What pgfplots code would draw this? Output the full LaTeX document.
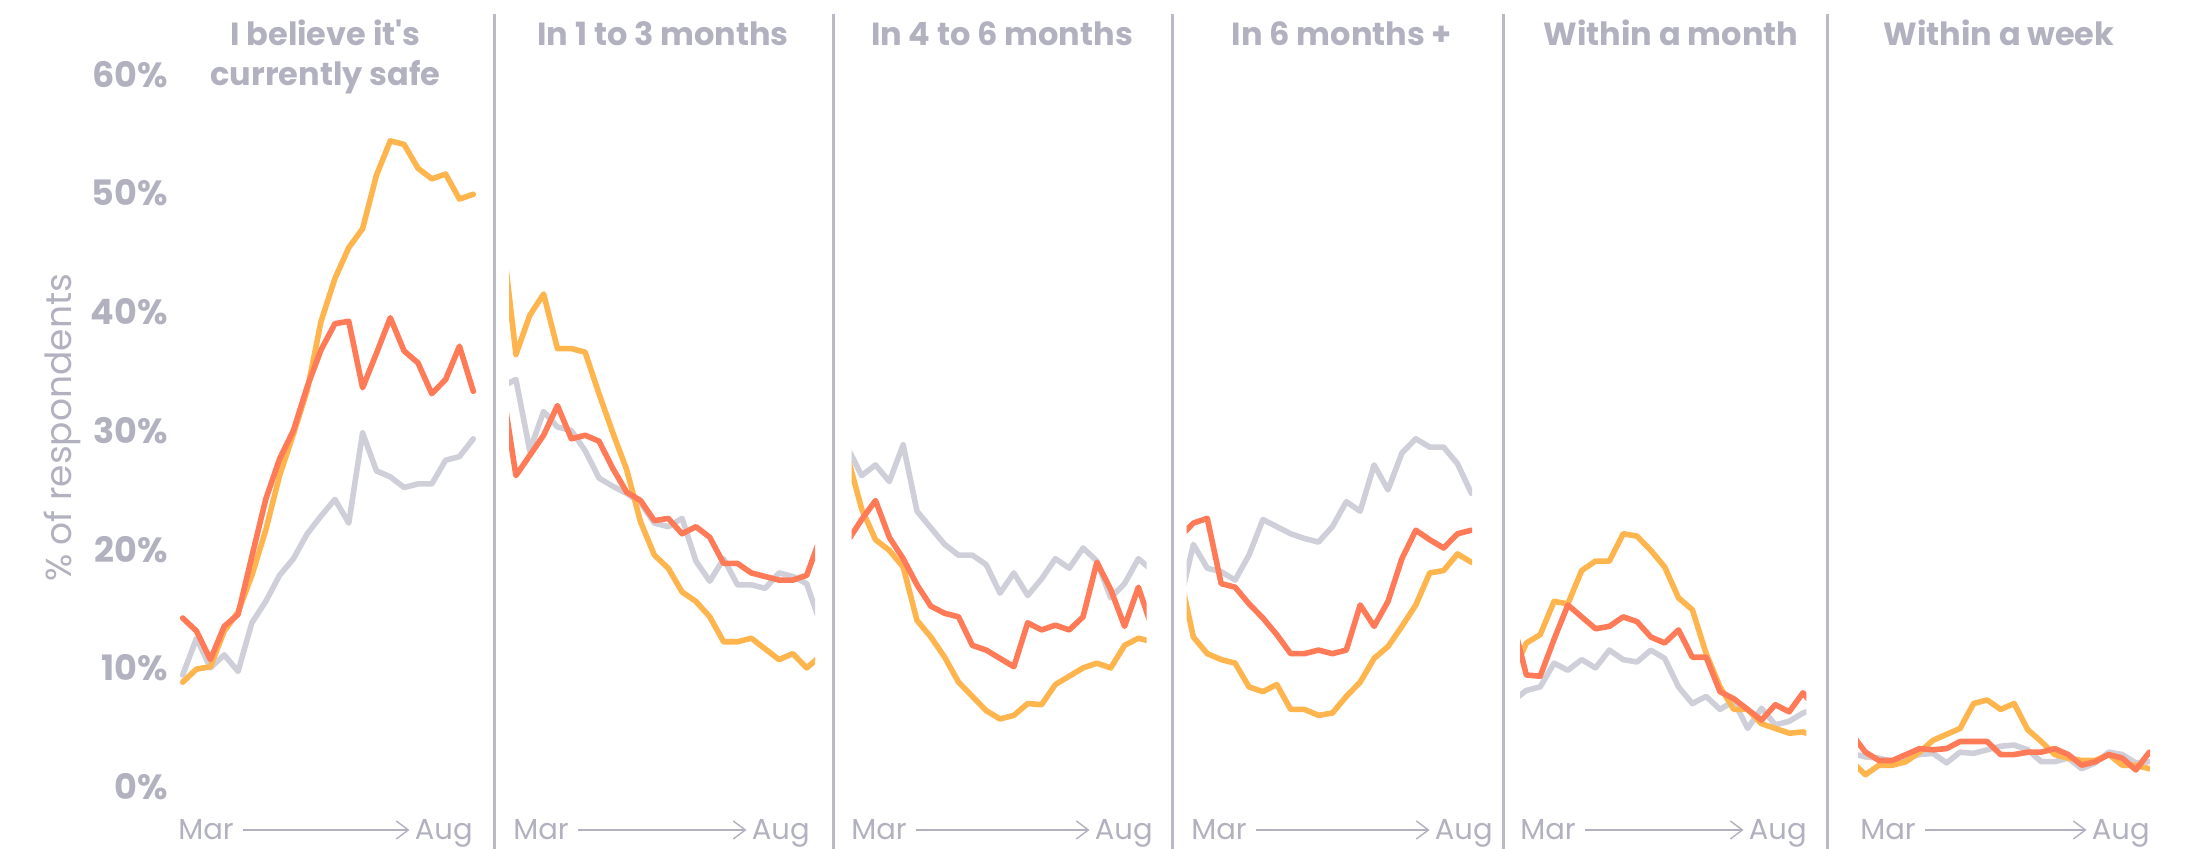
\documentclass[border=0pt]{standalone}
\usepackage{fontspec}
\setmainfont{Poppins}
\usepackage{pgfplots}
\usepackage{pgfplotstable}
\pgfplotsset{compat=1.18}
\usetikzlibrary{arrows.meta}

\definecolor{cgray}{RGB}{207,207,217}
\definecolor{corange}{RGB}{255,181,77}
\definecolor{ccoral}{RGB}{255,123,87}
\definecolor{ctext}{RGB}{178,177,191}
\definecolor{crule}{RGB}{186,185,199}

% one table per panel: x = week index, three series
\pgfplotstableread{
x gray orange coral
0 9.4 8.8 14.2
1 12.5 9.9 13.1
2 10.0 10.1 10.7
3 11.1 13.1 13.5
4 9.7 14.7 14.5
5 13.8 17.8 19.4
6 15.6 21.6 24.2
7 17.8 26.2 27.6
8 19.2 29.7 30.0
9 21.3 33.4 33.7
10 22.8 39.2 36.8
11 24.2 42.8 39.0
12 22.2 45.4 39.2
13 29.8 47.0 33.6
14 26.6 51.5 36.5
15 26.1 54.4 39.5
16 25.2 54.1 36.7
17 25.5 52.1 35.7
18 25.5 51.2 33.1
19 27.5 51.6 34.3
20 27.8 49.5 37.1
21 29.3 49.9 33.3
}\safe

\pgfplotstableread{
x gray orange coral
-1 33.7 46.6 33.8
0 34.3 36.4 26.2
1 28.3 39.7 27.9
2 31.6 41.5 29.6
3 30.3 36.9 32.1
4 30.0 36.9 29.3
5 28.3 36.6 29.6
6 26.0 33.1 29.1
7 25.3 29.8 26.8
8 24.7 26.7 24.8
9 23.9 22.3 24.1
10 22.2 19.5 22.4
11 21.9 18.4 22.6
12 22.6 16.4 21.3
13 19.0 15.6 21.9
14 17.3 14.3 21.0
15 19.2 12.2 18.8
16 17.0 12.2 18.8
17 17.0 12.5 18.0
18 16.7 11.6 17.7
19 18.0 10.7 17.4
20 17.7 11.2 17.4
21 17.1 10.0 17.8
22 13.7 11.0 21.0
}\onetothree

\pgfplotstableread{
x gray orange coral
-1 28.5 27.7 20.7
0 26.2 23.4 22.5
1 27.1 20.8 24.1
2 25.7 19.9 21.0
3 28.8 18.5 19.2
4 23.2 14.0 17.0
5 21.8 12.6 15.2
6 20.4 10.9 14.6
7 19.5 8.8 14.3
8 19.5 7.6 11.9
9 18.7 6.4 11.5
10 16.3 5.7 10.8
11 18.0 6.0 10.1
12 16.1 7.0 13.8
13 17.5 6.9 13.2
14 19.2 8.6 13.6
15 18.4 9.3 13.2
16 20.1 10.0 14.3
17 19.0 10.4 18.9
18 15.9 10.0 16.6
19 17.1 11.9 13.5
20 19.2 12.5 16.8
21 18.2 12.2 13.3
}\fourtosix

\pgfplotstableread{
x gray orange coral
-1 15.4 18.0 21.0
0 20.4 12.6 22.2
1 18.4 11.2 22.6
2 18.1 10.7 17.1
3 17.4 10.4 16.8
4 19.5 8.4 15.4
5 22.5 8.0 14.2
6 21.9 8.6 12.8
7 21.3 6.5 11.2
8 20.9 6.5 11.2
9 20.6 6.0 11.5
10 21.9 6.2 11.2
11 24.0 7.6 11.5
12 23.2 8.8 15.3
13 27.1 10.8 13.5
14 25.0 11.8 15.6
15 28.1 13.5 19.2
16 29.3 15.3 21.6
17 28.6 18.0 20.8
18 28.6 18.2 20.1
19 27.2 19.6 21.3
20 24.7 18.9 21.6
}\sixplus

\pgfplotstableread{
x gray orange coral
-1 7.2 9.5 14.0
0 8.1 12.1 9.4
1 8.4 12.8 9.3
2 10.4 15.6 12.4
3 9.8 15.4 15.3
4 10.7 18.2 14.3
5 10.0 19.0 13.3
6 11.5 19.0 13.5
7 10.7 21.3 14.3
8 10.5 21.1 13.9
9 11.5 19.9 12.6
10 10.8 18.5 12.1
11 8.4 15.9 13.2
12 7.0 14.9 10.9
13 7.6 11.2 10.9
14 6.5 8.4 8.0
15 7.2 6.5 7.4
16 4.9 6.5 6.5
17 6.6 5.3 5.6
18 5.2 4.9 6.9
19 5.5 4.5 6.3
20 6.2 4.6 7.9
21 6.6 4.2 6.5
}\month

\pgfplotstableread{
x gray orange coral
-1 2.8 2.1 4.4
0 2.5 1.0 2.9
1 2.4 1.8 2.2
2 2.1 1.8 2.2
3 2.4 2.1 2.7
4 2.7 2.9 3.2
5 2.8 3.9 3.1
6 2.0 4.4 3.2
7 2.9 4.9 3.8
8 2.8 7.0 3.8
9 3.1 7.3 3.8
10 3.4 6.5 2.7
11 3.5 7.0 2.7
12 3.1 4.8 2.9
13 2.1 3.8 2.9
14 2.1 2.7 3.2
15 2.4 2.4 2.7
16 1.5 2.2 1.8
17 2.0 2.2 2.1
18 2.9 2.7 2.7
19 2.7 1.8 2.4
20 2.0 1.8 1.4
21 2.1 1.5 2.9
}\week

\pgfplotsset{
  panel/.style={
    scale only axis, height=356.1pt, ymin=0, ymax=60,
    anchor=south west,
    axis line style={draw=none}, tick style={draw=none},
    xtick=\empty, ytick=\empty,
    every axis plot/.append style={line width=2.8pt, line join=round, line cap=round, mark=none},
  },
}
\newcommand{\three}[1]{%
  \addplot[cgray] table[x=x,y=gray]{#1};
  \addplot[corange] table[x=x,y=orange]{#1};
  \addplot[ccoral] table[x=x,y=coral]{#1};
}

\begin{document}
\begin{tikzpicture}
\path[use as bounding box] (0,0) rectangle (1096pt,-424.5pt);

\begin{axis}[panel, at={(91pt,-393.3pt)}, width=146pt, xmin=-0.05, xmax=21.05, clip=false,
  ytick={0,10,...,60}, /pgf/number format/assume math mode=true,
  yticklabel={\pgfmathprintnumber{\tick}\%},
  yticklabel style={font=\fontsize{17.5}{20}\selectfont\bfseries, text=ctext, anchor=east, inner sep=0pt, xshift=-7pt}]
\three{\safe}
\end{axis}
\begin{axis}[panel, at={(254.5pt,-393.3pt)}, width=153pt, xmin=-0.5, xmax=21.6]
\three{\onetothree}
\end{axis}
\begin{axis}[panel, at={(425.85pt,-393.3pt)}, width=147.5pt, xmin=-0.72, xmax=20.6]
\three{\fourtosix}
\end{axis}
\begin{axis}[panel, at={(593.35pt,-393.3pt)}, width=142.7pt, xmin=-0.48, xmax=20.05]
\three{\sixplus}
\end{axis}
\begin{axis}[panel, at={(760pt,-393.3pt)}, width=143.15pt, xmin=-0.46, xmax=20.24]
\three{\month}
\end{axis}
\begin{axis}[panel, at={(929pt,-393.3pt)}, width=146pt, xmin=-0.55, xmax=21.05]
\three{\week}
\end{axis}

\begin{scope}[x=0.5pt, y=-0.5pt]
  % dividers
  \foreach \d in {494,833,1172,1503,1827}
    \draw[crule, line width=1.5pt] (\d,14) -- (\d,849);
  % titles
  \begin{scope}[every node/.style={anchor=base, inner sep=0pt, text=ctext, font=\fontsize{16}{20}\selectfont\bfseries}]
    \node at (325.5,46) {I believe it\textquotesingle s};
    \node at (325.5,86) {currently safe};
    \node at (663,46) {In 1 to 3 months};
    \node at (1002,46) {In 4 to 6 months};
    \node at (1342,46) {In 6 months +};
    \node at (1671,46) {Within a month};
    \node at (1999,46) {Within a week};
  \end{scope}
  % y axis title
  \node[rotate=90, text=ctext, font=\fontsize{18}{20}\selectfont] at (62,428) {\% of respondents};
  % time direction under each panel
  \foreach \a/\b [count=\i] in {178/473,513/810,851/1153,1191/1493,1520/1807,1860/2150} {
    \node[anchor=base west, inner sep=0pt, text height=10pt, text depth=0pt, text=ctext, font=\fontsize{14.5}{16}\selectfont] (m\i) at (\a,840) {Mar};
    \node[anchor=base east, inner sep=0pt, text height=10pt, text depth=0pt, text=ctext, font=\fontsize{14.5}{16}\selectfont] (g\i) at (\b,840) {Aug};
    \draw[ctext, line width=0.7pt, -{Straight Barb[length=6pt, width=9pt, line width=0.7pt]}] ([xshift=4.5pt]m\i.east) -- ([xshift=-2.5pt]g\i.west);
  }
\end{scope}
\end{tikzpicture}
\end{document}
